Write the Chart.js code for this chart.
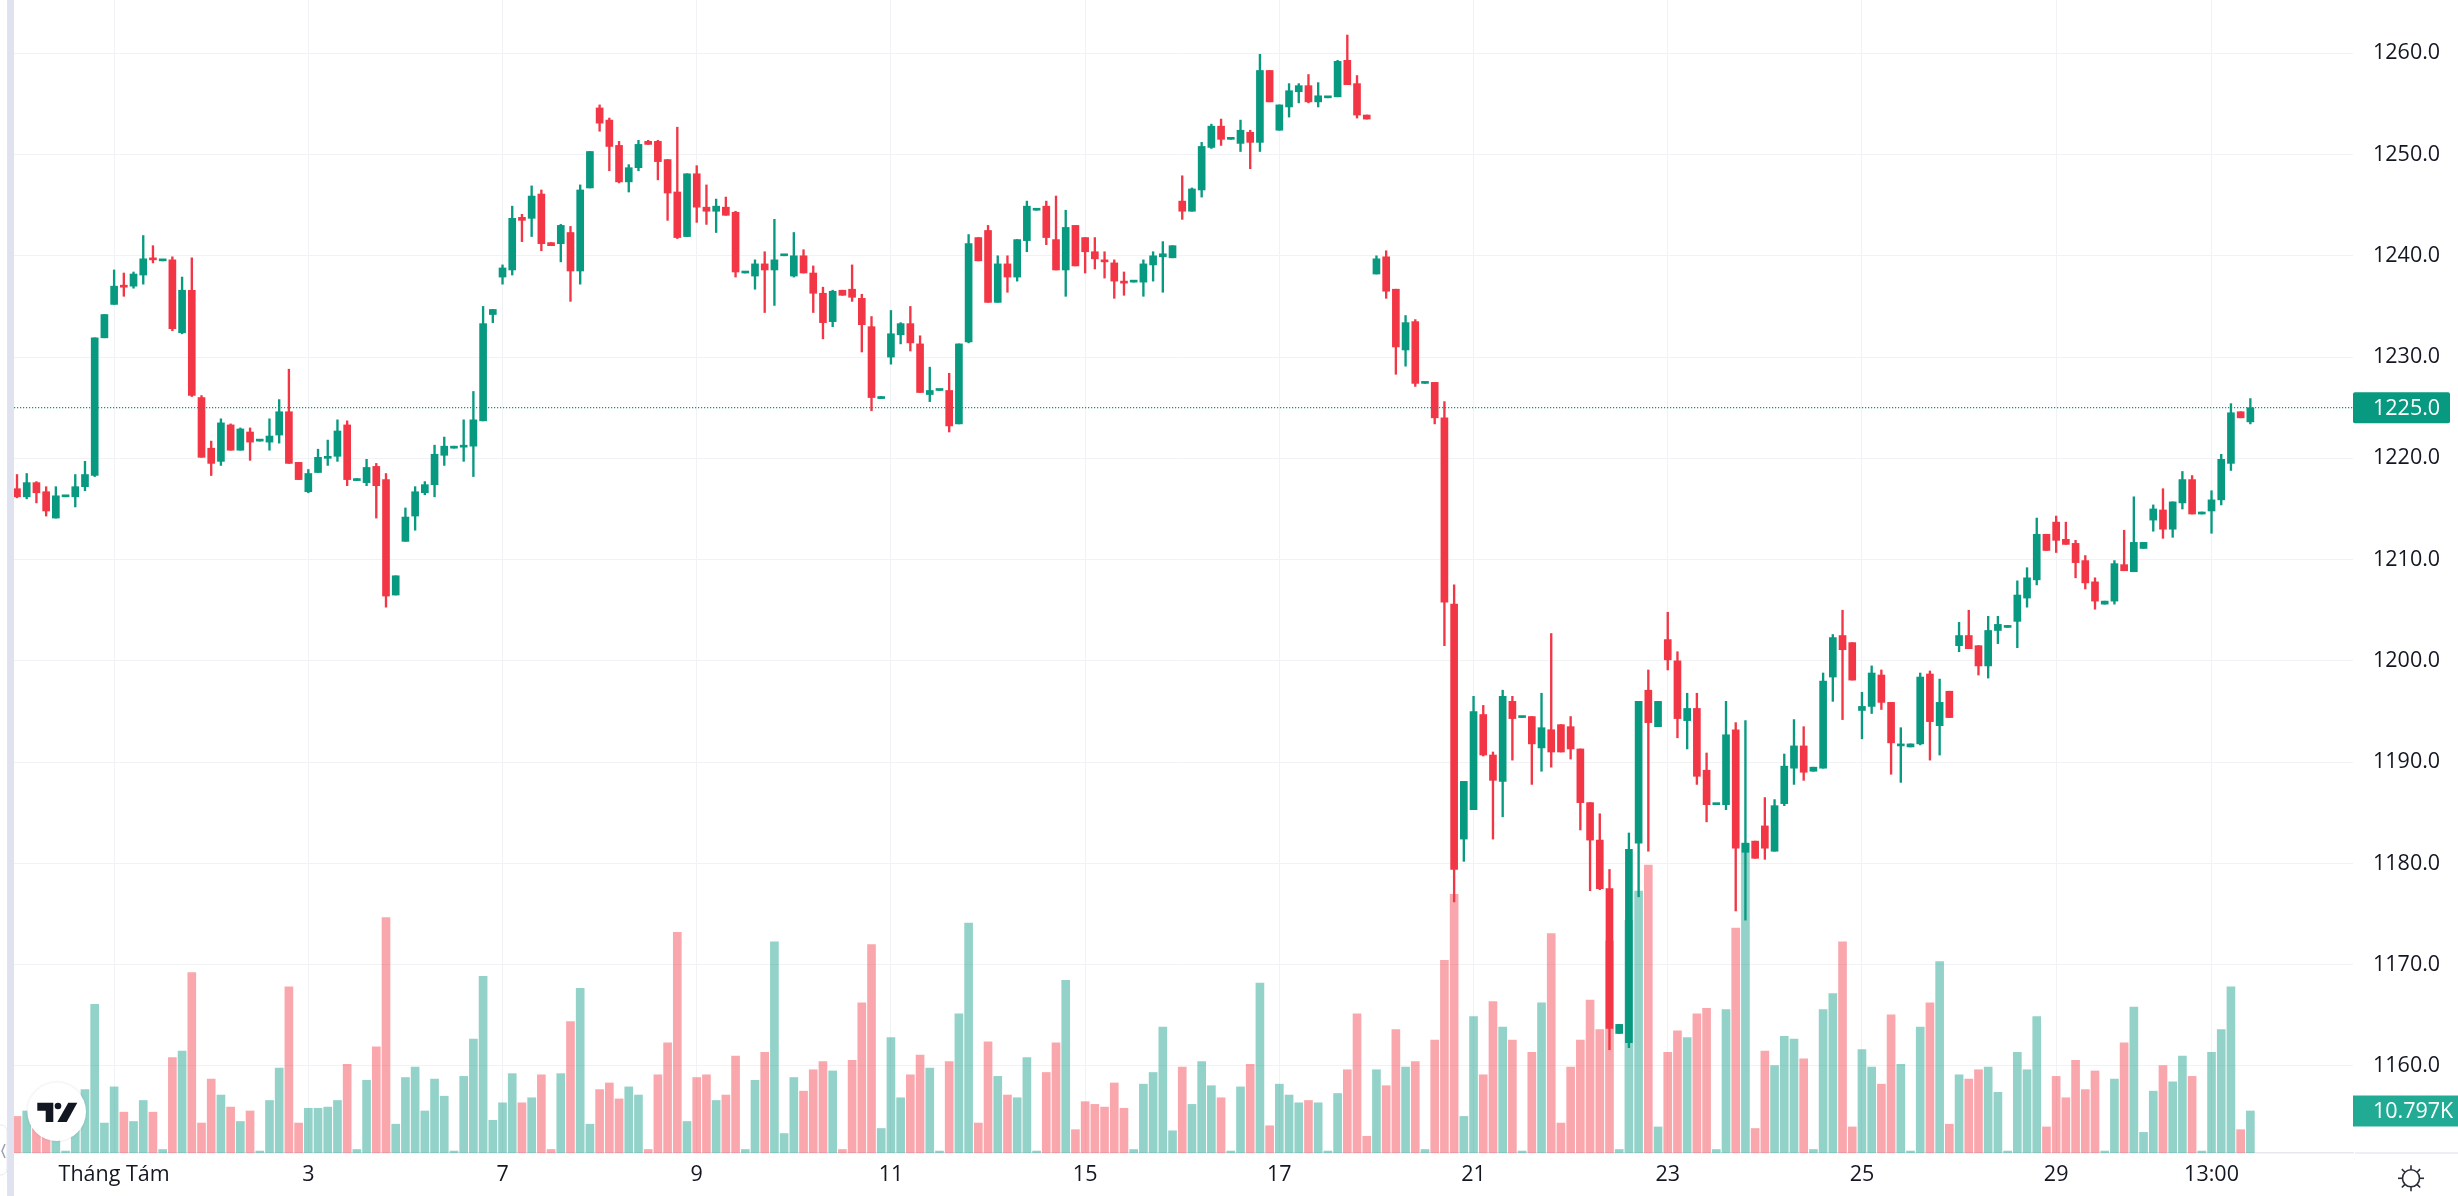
<!DOCTYPE html>
<html>
<head>
<meta charset="utf-8">
<title>Chart</title>
<style>
html, body { margin: 0; padding: 0; background: #fff; }
canvas { display: block; }
</style>
<script src="https://cdn.jsdelivr.net/npm/chart.js@4"></script>
</head>
<body>
<canvas id="priceChart" width="2458" height="1196"></canvas>
<script>
var opens = [
  1217.0,1216.2,1217.6,1216.7,1214.1,1216.2,1216.2,1217.2,1218.3,1231.9,
  1235.2,1237.1,1237.0,1238.1,1239.7,1239.5,1239.6,1232.4,1236.6,1226.0,
  1221.0,1219.7,1223.3,1220.8,1222.6,1221.7,1221.6,1222.3,1224.6,1219.6,
  1216.7,1218.6,1220.0,1220.2,1223.3,1217.8,1217.6,1219.2,1217.9,1206.5,
  1211.8,1214.3,1216.6,1217.4,1220.3,1221.0,1221.1,1221.2,1223.7,1234.2,
  1237.9,1238.6,1243.8,1243.7,1246.1,1241.3,1241.2,1242.3,1238.5,1246.7,
  1254.6,1253.4,1250.9,1247.3,1248.7,1251.3,1251.3,1249.5,1246.3,1241.9,
  1248.1,1244.8,1244.4,1244.8,1244.3,1238.3,1238.0,1239.2,1238.6,1240.0,
  1238.0,1240.0,1238.3,1236.3,1233.5,1236.6,1236.7,1235.8,1233.0,1225.9,
  1230.0,1232.2,1233.3,1231.3,1226.3,1226.7,1226.7,1223.4,1231.5,1241.8,
  1242.5,1235.4,1239.2,1237.9,1241.5,1244.5,1244.9,1241.6,1238.6,1243.0,
  1241.8,1240.4,1239.6,1239.3,1237.5,1237.4,1237.4,1239.1,1239.9,1239.8,
  1245.4,1244.4,1246.5,1250.7,1252.8,1251.5,1251.1,1252.2,1251.2,1258.3,
  1252.4,1254.7,1256.2,1256.8,1255.2,1255.6,1255.7,1259.3,1257.0,1253.9,
  1238.2,1239.9,1236.7,1230.7,1233.5,1227.4,1227.5,1224.0,1205.6,1182.4,
  1185.3,1194.7,1190.7,1188.1,1196.0,1194.4,1194.5,1191.4,1193.2,1193.7,
  1193.5,1191.3,1186.0,1182.3,1177.5,1163.2,1162.3,1182.0,1197.1,1193.5,
  1202.1,1200.0,1194.1,1195.3,1189.2,1185.8,1185.8,1193.2,1181.1,1182.2,
  1183.7,1181.2,1185.9,1189.4,1191.6,1189.1,1189.4,1198.4,1202.5,1201.8,
  1195.1,1195.5,1198.6,1195.9,1191.6,1191.5,1191.8,1198.7,1193.6,1197.0,
  1201.5,1202.5,1201.5,1199.5,1203.0,1203.3,1203.9,1206.2,1208.0,1212.5,
  1213.7,1212.0,1211.6,1209.9,1207.8,1205.6,1205.9,1209.5,1208.8,1211.1,
  1213.9,1214.9,1213.0,1215.6,1217.9,1214.5,1214.8,1215.9,1219.5,1224.6,
  1223.6
];
var highs = [
  1218.4,1218.5,1217.7,1217.2,1217.2,1216.3,1218.4,1219.7,1231.9,1234.2,
  1238.6,1238.3,1238.4,1242.0,1241.0,1239.6,1239.9,1237.9,1239.8,1226.2,
  1221.7,1223.9,1223.4,1223.0,1223.0,1221.8,1223.9,1225.8,1228.8,1219.6,
  1218.9,1220.9,1221.8,1223.8,1223.7,1218.0,1219.9,1219.5,1218.5,1208.4,
  1215.1,1217.2,1217.7,1221.3,1222.1,1221.2,1223.8,1226.6,1235.0,1234.7,
  1239.1,1244.9,1244.1,1246.9,1246.5,1241.3,1243.1,1242.9,1247.0,1250.3,
  1254.9,1253.6,1251.3,1249.0,1251.4,1251.4,1251.4,1249.5,1252.7,1248.1,
  1248.9,1247.0,1245.6,1245.8,1244.4,1238.4,1239.6,1240.4,1243.6,1240.1,
  1242.3,1240.6,1239.0,1236.9,1236.6,1236.6,1239.1,1236.2,1234.0,1226.1,
  1234.6,1233.4,1235.0,1232.1,1229.0,1226.8,1228.4,1231.3,1242.1,1241.8,
  1243.0,1240.0,1240.0,1241.6,1245.4,1244.6,1245.4,1245.9,1244.5,1243.0,
  1241.8,1241.8,1240.4,1239.6,1238.4,1237.5,1239.6,1240.4,1241.4,1241.0,
  1247.9,1246.7,1251.2,1253.0,1253.5,1251.6,1253.4,1252.4,1259.9,1258.3,
  1254.9,1257.0,1257.0,1257.9,1257.1,1255.7,1259.3,1261.8,1257.8,1253.9,
  1240.0,1240.5,1236.7,1234.1,1233.7,1227.5,1227.5,1225.6,1207.5,1188.1,
  1196.5,1195.6,1191.0,1197.1,1196.5,1194.5,1194.5,1196.8,1202.7,1193.7,
  1194.5,1191.3,1186.0,1184.9,1179.4,1164.1,1183.0,1196.0,1199.1,1196.0,
  1204.8,1200.9,1196.8,1196.8,1190.9,1185.9,1196.0,1193.9,1194.1,1182.2,
  1186.5,1186.3,1190.8,1194.2,1193.5,1189.5,1198.8,1202.6,1205.0,1201.8,
  1196.9,1199.5,1199.1,1195.9,1193.4,1191.8,1198.8,1199.0,1198.2,1197.0,
  1203.8,1205.0,1201.5,1204.4,1204.4,1203.5,1207.9,1209.2,1214.1,1212.5,
  1214.3,1213.7,1211.9,1210.4,1208.2,1205.9,1209.9,1212.9,1216.2,1211.7,
  1215.4,1217.0,1215.7,1218.7,1218.3,1214.7,1216.8,1220.4,1225.4,1224.6,
  1225.9
];
var lows = [
  1216.1,1216.0,1215.6,1214.3,1214.1,1216.2,1215.2,1216.8,1218.2,1231.9,
  1235.2,1236.0,1236.8,1237.2,1239.3,1239.5,1232.6,1232.3,1226.1,1220.1,
  1218.3,1219.3,1220.8,1220.8,1219.8,1221.7,1220.8,1221.5,1219.5,1217.9,
  1216.6,1218.6,1219.3,1219.7,1217.3,1217.8,1217.3,1214.1,1205.3,1206.5,
  1211.8,1212.9,1216.4,1216.2,1219.3,1221.0,1219.7,1218.2,1223.7,1233.4,
  1237.2,1238.1,1241.4,1241.9,1240.5,1241.0,1239.4,1235.5,1237.2,1246.7,
  1252.3,1248.4,1247.2,1246.3,1248.4,1251.0,1247.5,1243.5,1241.7,1241.9,
  1243.3,1243.1,1242.3,1244.0,1237.9,1238.3,1236.7,1234.4,1235.1,1240.0,
  1237.9,1238.3,1234.4,1231.8,1233.0,1236.1,1235.5,1230.5,1224.7,1225.9,
  1229.3,1231.3,1230.6,1226.5,1225.6,1226.7,1222.6,1223.4,1231.4,1239.5,
  1235.4,1235.4,1236.4,1237.5,1240.4,1244.5,1241.1,1238.6,1236.0,1239.0,
  1238.3,1238.7,1237.8,1235.8,1236.1,1237.4,1236.0,1237.5,1236.4,1239.8,
  1243.6,1244.4,1245.8,1250.6,1250.9,1251.5,1250.3,1248.6,1250.3,1255.2,
  1252.4,1253.7,1255.1,1255.1,1254.7,1255.6,1255.7,1256.9,1253.6,1253.5,
  1238.2,1235.8,1228.3,1229.1,1227.1,1227.4,1223.4,1201.5,1176.2,1180.2,
  1185.3,1190.6,1182.4,1184.6,1190.2,1194.4,1187.8,1189.1,1189.5,1191.0,
  1190.3,1183.3,1177.3,1177.4,1161.6,1163.2,1161.8,1176.7,1181.2,1193.5,
  1199.1,1192.4,1191.3,1187.8,1184.1,1185.8,1185.3,1175.3,1174.4,1180.5,
  1180.4,1181.2,1185.7,1187.8,1188.2,1189.1,1189.4,1196.0,1194.2,1198.1,
  1192.3,1194.8,1195.2,1188.8,1188.0,1191.5,1191.7,1190.2,1190.7,1194.4,
  1200.9,1201.2,1198.6,1198.3,1201.7,1203.3,1201.3,1205.3,1207.5,1210.9,
  1210.7,1211.5,1208.2,1207.1,1205.1,1205.6,1205.6,1208.9,1208.8,1211.1,
  1212.8,1212.1,1212.2,1215.0,1214.5,1214.5,1212.6,1215.4,1218.8,1224.0,
  1223.4
];
var closes = [
  1216.2,1217.6,1216.6,1214.8,1216.3,1216.3,1217.2,1218.4,1231.9,1234.2,
  1237.0,1236.9,1238.2,1239.7,1239.6,1239.6,1232.8,1236.6,1226.2,1220.1,
  1219.5,1223.5,1220.8,1222.9,1221.6,1221.8,1222.2,1224.6,1219.5,1217.9,
  1218.5,1220.1,1220.2,1222.7,1217.9,1218.0,1219.1,1217.3,1206.4,1208.4,
  1214.2,1216.7,1217.4,1220.4,1221.2,1221.2,1221.2,1223.8,1233.3,1234.7,
  1238.8,1243.7,1243.5,1245.9,1241.2,1241.0,1243.0,1238.5,1246.5,1250.3,
  1253.1,1250.8,1247.3,1248.7,1251.0,1251.0,1249.3,1246.2,1241.8,1248.1,
  1244.8,1244.4,1244.9,1244.0,1238.4,1238.4,1239.2,1238.6,1239.6,1240.1,
  1240.0,1238.3,1236.3,1233.4,1236.5,1236.1,1235.9,1233.2,1226.0,1226.1,
  1232.3,1233.3,1231.4,1226.5,1226.7,1226.8,1223.2,1231.3,1241.2,1239.5,
  1235.4,1239.2,1237.9,1241.6,1244.9,1244.6,1241.8,1238.6,1242.8,1239.0,
  1240.4,1239.7,1239.4,1237.5,1237.3,1237.5,1239.2,1240.0,1240.2,1241.0,
  1244.4,1246.6,1250.8,1252.8,1251.5,1251.6,1252.4,1251.2,1258.3,1255.2,
  1254.9,1256.3,1256.8,1255.2,1255.8,1255.7,1259.2,1256.9,1253.9,1253.5,
  1239.7,1236.5,1231.0,1233.4,1227.4,1227.5,1224.0,1205.8,1179.4,1188.1,
  1195.0,1190.7,1188.2,1196.5,1194.3,1194.5,1191.8,1193.4,1191.0,1191.0,
  1191.3,1186.0,1182.3,1177.5,1163.7,1164.1,1181.4,1196.0,1193.9,1196.0,
  1200.1,1194.3,1195.3,1188.6,1185.8,1185.9,1192.7,1181.5,1182.0,1180.5,
  1181.5,1185.7,1189.6,1191.6,1189.0,1189.5,1198.0,1202.3,1201.1,1198.1,
  1195.5,1198.8,1195.9,1191.9,1191.7,1191.8,1198.4,1194.0,1195.9,1194.4,
  1202.5,1201.2,1199.5,1203.0,1203.6,1203.5,1206.5,1208.2,1212.5,1210.9,
  1211.9,1211.5,1209.7,1207.7,1205.9,1205.9,1209.6,1208.9,1211.7,1211.7,
  1215.0,1213.0,1215.7,1217.9,1214.5,1214.7,1215.9,1219.9,1224.5,1224.0,
  1225.0
];
// volume in thousands
var volumes = [
  9.4,10.8,8.4,6.7,7.5,0.5,10.0,16.3,38.2,7.7,
  17.0,10.5,8.1,13.5,10.5,0.9,24.5,26.2,46.4,7.7,
  19.0,14.9,11.8,8.1,10.8,0.5,13.5,21.8,42.7,7.7,
  11.5,11.5,11.8,13.5,22.8,0.9,18.7,27.3,60.5,7.4,
  19.4,22.1,10.8,19.0,14.6,0.5,19.7,29.3,45.4,8.4,
  12.9,20.4,12.9,14.2,20.1,0.9,20.4,33.8,42.3,7.4,
  16.3,18.0,13.9,17.0,14.9,0.9,20.1,28.3,56.7,8.1,
  19.4,20.1,13.5,14.9,24.9,0.9,18.7,25.9,54.3,5.0,
  19.4,15.9,21.4,23.5,21.1,0.9,23.8,38.6,53.6,6.3,
  29.7,14.2,20.1,25.2,21.8,0.5,23.5,35.8,59.1,7.7,
  28.6,19.7,14.9,14.2,24.5,0.5,20.7,28.3,44.4,6.0,
  13.2,12.5,11.8,18.0,11.5,0.9,17.7,20.7,32.4,5.7,
  22.1,12.5,23.5,17.3,14.2,0.5,17.0,22.8,43.7,7.0,
  17.7,14.9,12.9,13.5,12.9,0.5,15.3,21.4,35.8,4.3,
  21.4,17.3,31.7,22.1,23.5,0.9,29.0,49.5,66.5,9.4,
  35.1,20.1,38.9,32.4,29.0,0.5,25.9,38.6,56.4,7.7,
  22.1,29.0,39.3,31.7,54.5,0.9,59.8,67.3,74.0,6.7,
  25.9,31.4,29.7,35.8,37.2,0.9,36.9,57.8,79.6,6.3,
  26.2,22.5,30.0,29.3,24.2,0.9,36.9,41.0,54.3,6.7,
  26.6,22.1,17.7,35.5,22.8,0.5,32.4,38.6,49.2,7.4,
  20.1,19.0,21.4,22.1,15.6,0.5,25.9,21.4,35.1,6.7,
  19.7,14.2,23.8,16.3,21.1,0.5,19.0,28.3,37.5,5.3,
  15.9,22.5,18.3,24.9,19.7,0.5,25.9,31.7,42.7,6.0,
  10.797
];
var tickIndexes = [10, 30, 50, 70, 90, 110, 130, 150, 170, 190, 210, 226];
var tickLabels = ['Tháng Tám', '3', '7', '9', '11', '15', '17', '21', '23', '25', '29', '13:00'];
var lastPrice = 1225.0;
var lastVolume = 10.797;

var upColor = '#089981';
var downColor = '#f23645';
var upVolColor = 'rgba(8,153,129,0.44)';
var downVolColor = 'rgba(242,54,69,0.44)';
var gridColor = '#f1f2f6';
var textColor = '#131722';
var axisFont = { family: '"Open Sans", sans-serif', size: 21.5 };

function isUp(i) { return closes[i] >= opens[i]; }

var bodies = [], wicks = [], volumeBars = [];
for (var i = 0; i < opens.length; i++) {
    bodies.push({ x: i, y: [opens[i], closes[i]] });
    wicks.push({ x: i, y: [lows[i], highs[i]] });
    volumeBars.push({ x: i, y: volumes[i] });
}

// bits of the TradingView frame that are not part of the data
var framePlugin = {
    id: 'frame',
    beforeDraw: function(chart) {
        var c = chart.ctx;
        c.save();
        c.fillStyle = '#e0e3ef';
        c.fillRect(7, 0, 7, chart.height);
        c.strokeStyle = '#e8e9f0';
        c.lineWidth = 1;
        c.beginPath();
        c.roundRect(-6, 1125, 13, 50, 6);
        c.stroke();
        c.strokeStyle = '#9aa0ad';
        c.lineWidth = 1.5;
        c.beginPath();
        c.moveTo(5, 1144);
        c.lineTo(2, 1151);
        c.lineTo(5, 1158);
        c.stroke();
        c.restore();
    },
    afterDraw: function(chart) {
        var c = chart.ctx;
        var y = chart.scales.y;
        var v = chart.scales.v;
        var area = chart.chartArea;
        c.save();

        // axis line under the price scale
        c.strokeStyle = '#e8e9f0';
        c.lineWidth = 1.5;
        c.beginPath();
        c.moveTo(area.right + 2, area.bottom);
        c.lineTo(chart.width, area.bottom);
        c.stroke();

        // last value tags
        c.font = axisFont.size + 'px ' + axisFont.family;
        c.textAlign = 'left';
        c.textBaseline = 'middle';
        var py = y.getPixelForValue(lastPrice);
        c.fillStyle = upColor;
        c.beginPath();
        c.roundRect(area.right, py - 15.5, 97, 31, 2);
        c.fill();
        c.fillStyle = '#fff';
        c.fillText(lastPrice.toFixed(1), 2373, py + 1);

        var vy = v.getPixelForValue(lastVolume);
        c.fillStyle = '#22ab94';
        c.fillRect(area.right, vy - 15.5, chart.width - area.right, 31);
        c.fillStyle = '#fff';
        c.fillText(lastVolume.toFixed(3) + 'K', 2373, vy + 1);

        // logo
        c.shadowColor = 'rgba(0,0,0,0.12)';
        c.shadowBlur = 3;
        c.fillStyle = '#fff';
        c.beginPath();
        c.arc(56.7, 1111.7, 29.3, 0, Math.PI * 2);
        c.fill();
        c.shadowBlur = 0;
        c.fillStyle = textColor;
        c.beginPath();
        c.moveTo(37.3, 1102.7);
        c.lineTo(53.3, 1102.7);
        c.lineTo(53.3, 1122);
        c.lineTo(45.7, 1122);
        c.lineTo(45.7, 1110.7);
        c.lineTo(37.3, 1110.7);
        c.closePath();
        c.fill();
        c.beginPath();
        c.arc(58, 1106, 3.3, 0, Math.PI * 2);
        c.fill();
        c.beginPath();
        c.moveTo(68.3, 1102.7);
        c.lineTo(77.3, 1102.7);
        c.lineTo(66.7, 1122);
        c.lineTo(57.3, 1122);
        c.closePath();
        c.fill();

        // settings icon
        var gx = 2411, gy = 1178.3;
        c.strokeStyle = '#2a2e39';
        c.lineWidth = 1.6;
        c.beginPath();
        c.arc(gx, gy, 8.5, 0, Math.PI * 2);
        c.stroke();
        for (var k = 0; k < 8; k++) {
            var a = k * Math.PI / 4;
            c.beginPath();
            c.moveTo(gx + Math.cos(a) * 8.5, gy + Math.sin(a) * 8.5);
            c.lineTo(gx + Math.cos(a) * 13, gy + Math.sin(a) * 13);
            c.stroke();
        }
        c.restore();
    }
};

var ctx = document.getElementById('priceChart').getContext('2d');
var priceChart = new Chart(ctx, {
    type: 'bar',
    data: {
        datasets: [
            {
                type: 'line',
                data: [{ x: -0.31, y: lastPrice }, { x: 240.57, y: lastPrice }],
                yAxisID: 'y',
                borderColor: upColor,
                borderWidth: 1.2,
                borderDash: [1.2, 1.8],
                pointRadius: 0,
                order: 0
            },
            {
                data: bodies,
                yAxisID: 'y',
                grouped: false,
                barThickness: 7,
                minBarLength: 2,
                backgroundColor: function(c) { return isUp(c.dataIndex) ? upColor : downColor; },
                order: 1
            },
            {
                data: wicks,
                yAxisID: 'y',
                grouped: false,
                barThickness: 1.7,
                backgroundColor: function(c) { return isUp(c.dataIndex) ? upColor : downColor; },
                order: 2
            },
            {
                data: volumeBars,
                yAxisID: 'v',
                grouped: false,
                barThickness: 8,
                backgroundColor: function(c) { return isUp(c.dataIndex) ? upVolColor : downVolColor; },
                order: 3
            }
        ]
    },
    options: {
        responsive: false,
        animation: false,
        layout: { autoPadding: false, padding: { left: 14, right: 0, top: 0, bottom: 0 } },
        plugins: {
            legend: { display: false },
            tooltip: { enabled: false }
        },
        scales: {
            x: {
                type: 'linear',
                offset: false,
                min: -0.31,
                max: 240.57,
                afterBuildTicks: function(scale) {
                    scale.ticks = tickIndexes.map(function(v) { return { value: v }; });
                },
                afterFit: function(scale) { scale.height = 43; },
                grid: { color: gridColor, offset: false, drawTicks: false },
                border: { color: '#e8e9f0', width: 1.5 },
                ticks: {
                    autoSkip: false,
                    maxRotation: 0,
                    padding: 9,
                    color: textColor,
                    font: axisFont,
                    callback: function(value) {
                        return tickLabels[tickIndexes.indexOf(value)];
                    }
                }
            },
            y: {
                position: 'right',
                min: 1151.4,
                max: 1265.26,
                // the tick padding would otherwise push the plot down from the top edge
                afterFit: function(scale) {
                    scale.width = 105;
                    scale.paddingTop = 0;
                    scale.paddingBottom = 0;
                },
                grid: { color: gridColor, drawTicks: false },
                border: { display: false },
                ticks: {
                    stepSize: 10,
                    includeBounds: false,
                    padding: 20,
                    color: textColor,
                    font: axisFont,
                    callback: function(value) { return value.toFixed(1); }
                }
            },
            // volume pane overlaid at the bottom of the price pane
            v: {
                display: false,
                min: 0,
                max: 296.4
            }
        }
    },
    plugins: [framePlugin]
});
</script>
</body>
</html>
